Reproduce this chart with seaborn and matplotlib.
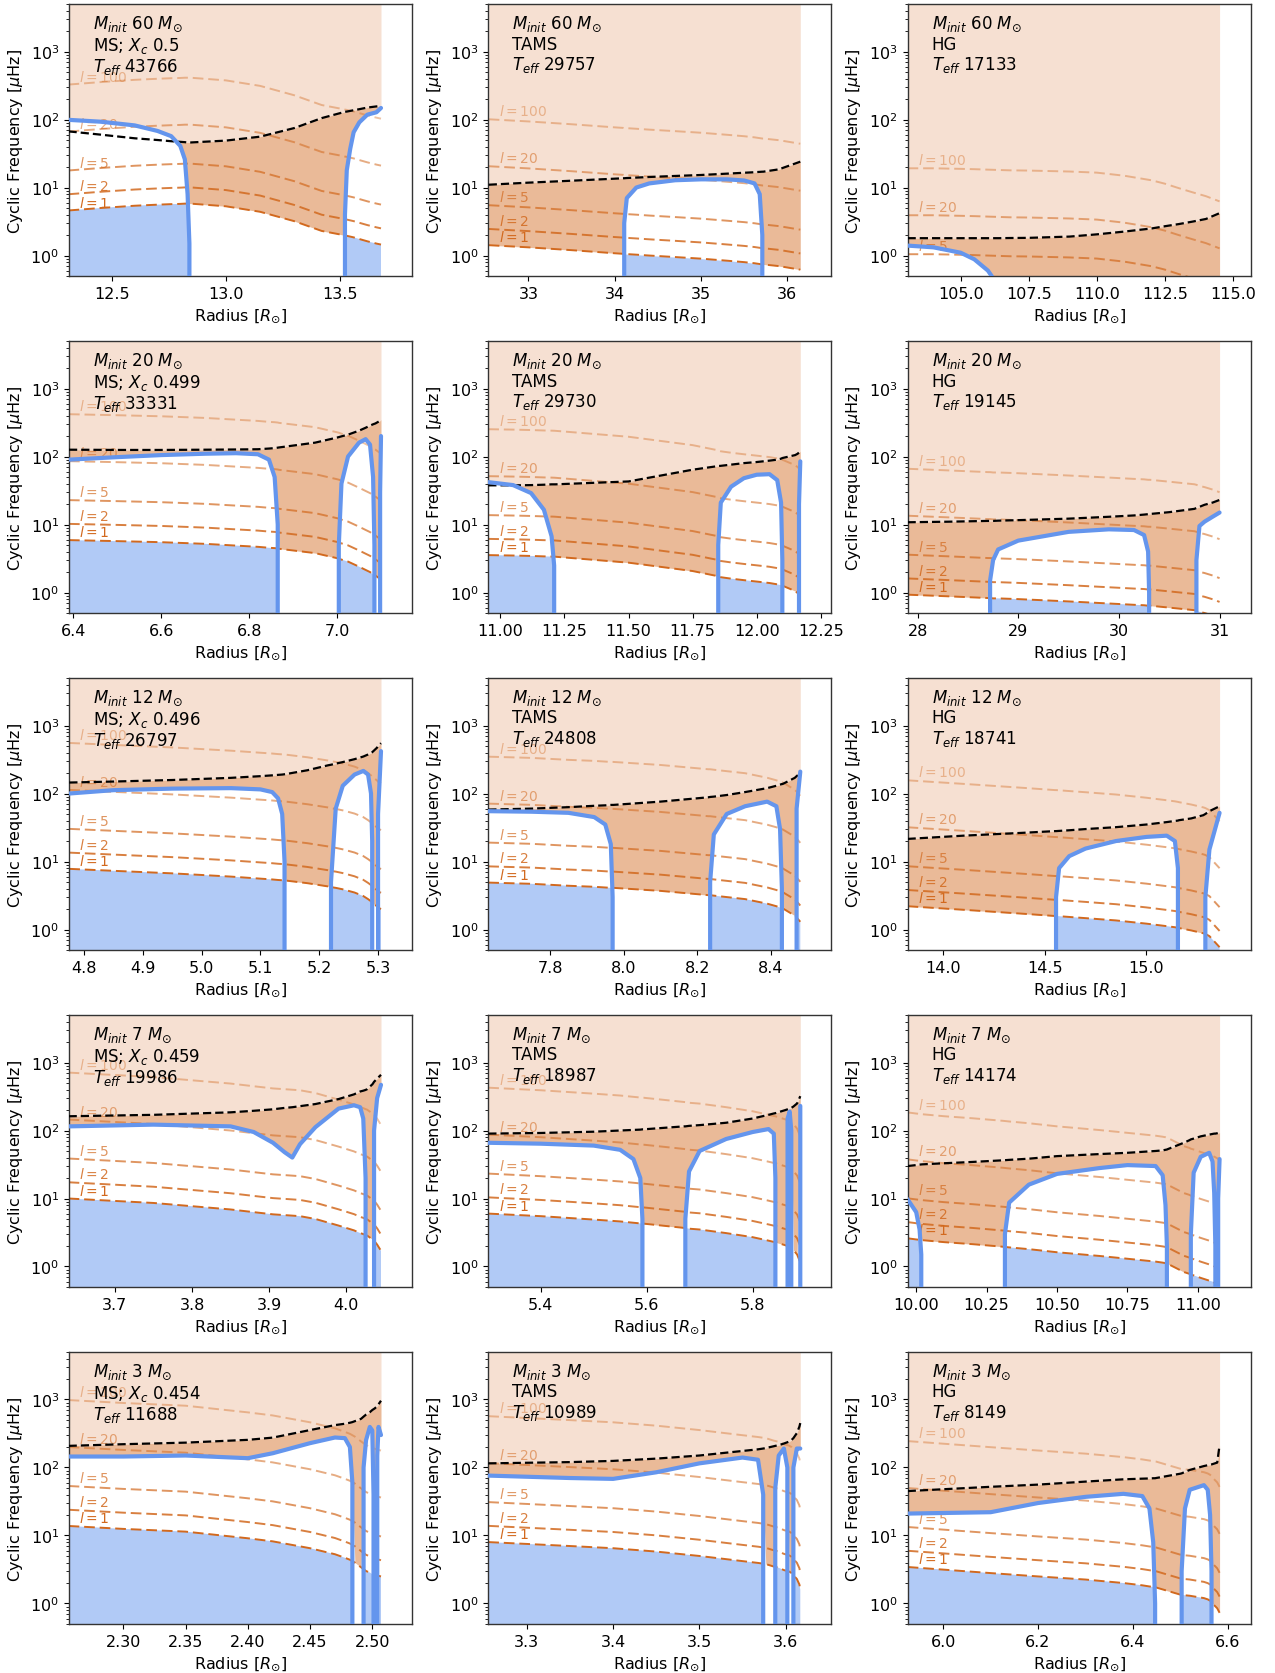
import numpy as np
import matplotlib
matplotlib.use("Agg")
import matplotlib.pyplot as plt
from matplotlib.ticker import FixedLocator
import seaborn as sns

# ---------------------------------------------------------------------------
# Propagation diagrams: radius [Rsun], Brunt-Vaisala frequency N, Lamb
# frequency for l=1 and the acoustic cut-off frequency (all in muHz).
# ---------------------------------------------------------------------------

# 60 Msun, MS
R_60_MS = [12.31, 12.45, 12.6, 12.7, 12.76, 12.8, 12.82, 12.832, 12.84, 12.845, 13.0, 13.15,
           13.3, 13.42, 13.515, 13.522, 13.53, 13.545, 13.56, 13.585, 13.62, 13.66, 13.68]
N_60_MS = [99, 93, 82, 68, 57, 41, 26, 8, 1.5, 0, 0, 0,
           0, 0, 0, 4, 18, 37, 65, 91, 118, 128, 148]
LAMB1_60_MS = [4.6, 5.0, 5.4, 5.6, 5.7, 5.75, 5.8, 5.8, 5.8, 5.8, 5.3, 4.4,
               3.2, 2.3, 2.0, 1.97, 1.95, 1.9, 1.85, 1.75, 1.62, 1.5, 1.45]
NUAC_60_MS = [67, 60, 53, 50, 48, 47, 46.5, 46, 46, 46, 49, 56,
              75, 105, 128, 130, 131, 134, 137, 142, 150, 156, 158]

# 60 Msun, TAMS
R_60_TAMS = [32.54, 33.0, 33.5, 34.0, 34.1, 34.11, 34.14, 34.25, 34.4, 34.7, 35.0, 35.3,
             35.5, 35.62, 35.68, 35.71, 35.72, 35.9, 36.15]
N_60_TAMS = [0, 0, 0, 0, 0, 3, 7, 10, 11.5, 12.8, 13.2, 13.2,
             12.7, 11.5, 8, 2, 0, 0, 0]
LAMB1_60_TAMS = [1.42, 1.32, 1.2, 1.08, 1.06, 1.05, 1.05, 1.03, 1.0, 0.95, 0.9, 0.84,
                 0.8, 0.77, 0.75, 0.74, 0.74, 0.7, 0.62]
NUAC_60_TAMS = [11, 11.8, 12.6, 13.5, 13.7, 13.7, 13.8, 14, 14.3, 14.8, 15.3, 16,
                16.5, 16.8, 17, 17.1, 17.1, 18.5, 24]

# 60 Msun, HG
R_60_HG = [103.05, 104.0, 105.0, 105.5, 106.0, 106.4, 106.8, 107.5, 109.0, 110.0, 111.0,
           112.0, 112.5, 113.0, 113.5, 114.0, 114.5]
N_60_HG = [1.4, 1.32, 1.1, 0.88, 0.6, 0.35, 0, 0, 0, 0, 0,
           0, 0, 0, 0, 0, 0]
LAMB1_60_HG = [0.27, 0.27, 0.265, 0.262, 0.258, 0.255, 0.252, 0.25, 0.242, 0.233, 0.21,
               0.18, 0.16, 0.138, 0.12, 0.105, 0.088]
NUAC_60_HG = [1.8, 1.8, 1.8, 1.8, 1.8, 1.8, 1.81, 1.82, 1.9, 2.05, 2.25,
              2.5, 2.7, 2.9, 3.15, 3.45, 4.2]

# 20 Msun, MS
R_20_MS = [6.39, 6.5, 6.6, 6.7, 6.77, 6.82, 6.845, 6.858, 6.865, 6.868, 6.95, 7.0,
           7.004, 7.01, 7.025, 7.05, 7.065, 7.075, 7.082, 7.085, 7.087, 7.096, 7.098, 7.1]
N_20_MS = [90, 98, 105, 110, 112, 108, 90, 50, 10, 0, 0, 0,
           5, 40, 100, 160, 180, 150, 50, 5, 0, 0, 30, 200]
LAMB1_20_MS = [5.9, 5.7, 5.5, 5.2, 4.9, 4.7, 4.55, 4.5, 4.45, 4.4, 3.8, 3.2,
               3.15, 3.05, 2.85, 2.4, 2.15, 2.0, 1.85, 1.8, 1.78, 1.62, 1.58, 1.55]
NUAC_20_MS = [126, 125, 125, 126, 127, 128, 131, 133, 135, 136, 160, 190,
              193, 198, 210, 240, 265, 285, 298, 303, 306, 330, 340, 350]

# 20 Msun, TAMS
R_20_TAMS = [10.953, 11.05, 11.12, 11.17, 11.2, 11.21, 11.215, 11.5, 11.75, 11.845, 11.85, 11.86,
             11.9, 11.95, 12.0, 12.05, 12.08, 12.095, 12.1, 12.105, 12.15, 12.16, 12.165, 12.17]
N_20_TAMS = [42, 38, 29, 16.5, 6.7, 2.5, 0, 0, 0, 0, 5, 21,
             36, 48, 54, 55, 45, 21, 3, 0, 0, 0, 20, 85]
LAMB1_20_TAMS = [3.55, 3.5, 3.45, 3.4, 3.38, 3.37, 3.36, 2.75, 2.07, 1.75, 1.72, 1.68,
                 1.6, 1.52, 1.45, 1.38, 1.32, 1.28, 1.26, 1.24, 1.05, 0.98, 0.94, 0.9]
NUAC_20_TAMS = [37.7, 37.7, 38, 38.5, 39, 39, 39, 43, 64, 72, 72.5, 73,
                76, 80, 83, 87, 90, 93, 95, 96, 105, 110, 115, 120]

# 20 Msun, HG
R_20_HG = [27.9, 28.3, 28.7, 28.72, 28.75, 28.8, 29.0, 29.5, 29.9, 30.15, 30.25, 30.29,
           30.3, 30.31, 30.5, 30.75, 30.77, 30.8, 30.85, 30.93, 31.0]
N_20_HG = [0, 0, 0, 1.5, 3, 4.3, 5.8, 7.8, 8.5, 8.3, 7, 4,
           1, 0, 0, 0, 3, 9.5, 11, 13, 15]
LAMB1_20_HG = [0.93, 0.88, 0.83, 0.83, 0.82, 0.82, 0.8, 0.74, 0.69, 0.66, 0.65, 0.64,
               0.64, 0.64, 0.6, 0.55, 0.54, 0.52, 0.5, 0.46, 0.42]
NUAC_20_HG = [10.8, 11.0, 11.3, 11.3, 11.3, 11.4, 11.6, 12.2, 13, 13.6, 14, 14.2,
              14.3, 14.3, 15.2, 17, 17.5, 18.2, 19.5, 21, 23]

# 12 Msun, MS
R_12_MS = [4.775, 4.85, 4.95, 5.05, 5.1, 5.12, 5.13, 5.137, 5.141, 5.143, 5.18, 5.215,
           5.22, 5.228, 5.24, 5.26, 5.275, 5.283, 5.288, 5.29, 5.292, 5.298, 5.3, 5.305]
N_12_MS = [100, 112, 118, 120, 115, 105, 85, 50, 10, 0, 0, 0,
           5, 60, 130, 190, 215, 190, 100, 20, 0, 0, 50, 420]
LAMB1_12_MS = [7.8, 7.3, 6.7, 6.0, 5.6, 5.45, 5.35, 5.3, 5.25, 5.25, 4.8, 4.3,
               4.2, 4.1, 3.9, 3.5, 3.1, 2.8, 2.6, 2.5, 2.4, 2.2, 2.1, 2.0]
NUAC_12_MS = [145, 150, 158, 170, 180, 185, 188, 190, 192, 193, 220, 260,
              265, 275, 290, 320, 350, 375, 395, 405, 420, 470, 500, 550]

# 12 Msun, TAMS
R_12_TAMS = [7.632, 7.75, 7.85, 7.92, 7.95, 7.965, 7.97, 7.972, 8.1, 8.23, 8.235,
             8.245, 8.28, 8.33, 8.39, 8.415, 8.425, 8.43, 8.432, 8.465, 8.47, 8.48]
N_12_TAMS = [55, 54, 52, 45, 35, 18, 3, 0, 0, 0, 5,
             25, 50, 65, 76, 65, 30, 4, 0, 0, 60, 210]
LAMB1_12_TAMS = [4.9, 4.7, 4.4, 4.25, 4.15, 4.1, 4.1, 4.1, 3.7, 3.2, 3.2,
                 3.15, 3.0, 2.8, 2.4, 2.2, 2.1, 2.05, 2.05, 1.6, 1.5, 1.3]
NUAC_12_TAMS = [58, 60, 63, 66, 67, 68, 68, 68, 76, 88, 89,
                90, 95, 105, 120, 130, 135, 138, 138, 170, 180, 200]

# 12 Msun, HG
R_12_HG = [13.824, 14.1, 14.4, 14.55, 14.555, 14.57, 14.62, 14.7, 14.85, 15.0, 15.1,
           15.14, 15.155, 15.16, 15.22, 15.28, 15.29, 15.31, 15.36]
N_12_HG = [0, 0, 0, 0, 3, 8, 12, 15.5, 20, 23, 24,
           20, 8, 0, 0, 0, 3, 15, 52]
LAMB1_12_HG = [2.2, 1.95, 1.7, 1.58, 1.58, 1.57, 1.53, 1.47, 1.36, 1.22, 1.12,
               1.08, 1.06, 1.05, 0.97, 0.88, 0.86, 0.8, 0.55]
NUAC_12_HG = [21.5, 24, 26.5, 28, 28, 28.2, 28.8, 30, 32, 35, 38,
              39.5, 40, 40.5, 43, 48, 50, 55, 65]

# 7 Msun, MS
R_7_MS = [3.64, 3.75, 3.85, 3.88, 3.905, 3.92, 3.93, 3.94, 3.96, 3.99, 4.01,
          4.018, 4.022, 4.025, 4.027, 4.034, 4.036, 4.04, 4.045]
N_7_MS = [115, 122, 115, 95, 66, 48, 40, 63, 112, 210, 235,
          220, 150, 20, 0, 0, 100, 300, 470]
LAMB1_7_MS = [10, 8.6, 6.9, 6.3, 5.85, 5.7, 5.6, 5.5, 5.0, 4.0, 3.4,
              3.1, 3.0, 2.9, 2.85, 2.5, 2.4, 2.1, 1.7]
NUAC_7_MS = [162, 170, 185, 195, 205, 215, 220, 228, 245, 290, 340,
             375, 385, 395, 405, 480, 520, 580, 660]

# 7 Msun, TAMS
R_7_TAMS = [5.301, 5.4, 5.5, 5.55, 5.575, 5.588, 5.592, 5.594, 5.67, 5.673, 5.68, 5.7,
            5.75, 5.8, 5.83, 5.84, 5.843, 5.845, 5.862, 5.866, 5.87, 5.873, 5.877, 5.884, 5.89]
N_7_TAMS = [66, 64, 60, 52, 38, 20, 5, 0, 0, 5, 25, 50,
            75, 95, 105, 90, 20, 0, 0, 150, 190, 100, 0, 0, 230]
LAMB1_7_TAMS = [6.0, 5.5, 4.9, 4.6, 4.4, 4.3, 4.28, 4.27, 3.7, 3.68, 3.6, 3.5,
                3.1, 2.7, 2.4, 2.3, 2.28, 2.25, 2.05, 2.0, 1.9, 1.85, 1.75, 1.5, 1.15]
NUAC_7_TAMS = [90, 92, 96, 100, 102, 103, 104, 104, 115, 115, 117, 120,
               130, 150, 170, 178, 180, 182, 200, 205, 210, 215, 225, 250, 320]

# 7 Msun, HG
R_7_HG = [9.969, 10.0, 10.012, 10.018, 10.022, 10.1, 10.2, 10.31, 10.315, 10.33, 10.4,
          10.5, 10.65, 10.75, 10.85, 10.875, 10.885, 10.89, 10.892, 10.95, 10.97,
          10.975, 10.985, 11.01, 11.04, 11.052, 11.058, 11.062, 11.068, 11.072, 11.077]
N_7_HG = [9.8, 6.3, 3.5, 1.5, 0, 0, 0, 0, 3, 8.7, 16,
          23, 28, 31, 30, 22, 8, 2, 0, 0, 0,
          3, 24, 41, 47, 35, 12, 2, 0, 10, 38]
LAMB1_7_HG = [2.6, 2.5, 2.47, 2.45, 2.44, 2.28, 2.13, 1.95, 1.94, 1.91, 1.8,
              1.62, 1.43, 1.3, 1.18, 1.14, 1.12, 1.1, 1.1, 0.83, 0.78,
              0.76, 0.74, 0.68, 0.62, 0.6, 0.58, 0.57, 0.55, 0.54, 0.53]
NUAC_7_HG = [30, 31, 31.5, 31.7, 31.8, 33, 34.5, 36.5, 36.6, 37, 38.5,
             42, 45, 47, 50, 51, 52, 52.5, 53, 66, 72,
             74, 76, 82, 87, 89, 90, 90, 91, 92, 93]

# 3 Msun, MS
R_3_MS = [2.256, 2.3, 2.35, 2.4, 2.42, 2.45, 2.47, 2.478, 2.482, 2.484, 2.486,
          2.491, 2.493, 2.495, 2.498, 2.5, 2.501, 2.502, 2.503, 2.504, 2.505, 2.507]
N_3_MS = [145, 145, 150, 137, 162, 228, 276, 270, 200, 60, 0,
          0, 100, 253, 395, 350, 40, 0, 0, 150, 395, 300]
LAMB1_3_MS = [13.8, 12.5, 11.4, 9.1, 8.2, 6.5, 5.3, 4.7, 4.4, 4.2, 4.0,
              3.4, 3.2, 3.0, 2.85, 2.7, 2.68, 2.65, 2.62, 2.6, 2.55, 2.5]
NUAC_3_MS = [208, 220, 232, 255, 275, 355, 420, 440, 455, 465, 480,
             520, 560, 600, 650, 700, 720, 740, 770, 800, 850, 960]

# 3 Msun, TAMS
R_3_TAMS = [3.2553, 3.35, 3.4, 3.45, 3.5, 3.55, 3.568, 3.574, 3.577, 3.586,
            3.588, 3.592, 3.598, 3.602, 3.604, 3.607, 3.609, 3.613, 3.616, 3.617]
N_3_TAMS = [76, 70, 68, 85, 115, 140, 130, 40, 0, 0,
            50, 150, 190, 100, 0, 0, 100, 190, 190, 190]
LAMB1_3_TAMS = [8.0, 7.0, 6.5, 5.8, 5.0, 4.2, 3.95, 3.85, 3.8, 3.5,
                3.45, 3.35, 3.1, 3.0, 2.95, 2.8, 2.6, 2.3, 1.9, 1.6]
NUAC_3_TAMS = [115, 120, 125, 135, 150, 175, 185, 190, 193, 205,
               208, 213, 225, 235, 240, 255, 270, 320, 400, 450]

# 3 Msun, HG
R_3_HG = [5.925, 6.1, 6.2, 6.3, 6.38, 6.42, 6.435, 6.443, 6.447, 6.449, 6.5,
          6.503, 6.51, 6.52, 6.55, 6.558, 6.563, 6.566, 6.568, 6.578, 6.583]
N_3_HG = [21, 22, 30, 37, 41, 38, 25, 8, 1, 0, 0,
          3, 25, 47, 55, 47, 20, 3, 0, 0, 0]
LAMB1_3_HG = [3.44, 2.8, 2.5, 2.25, 2.0, 1.85, 1.78, 1.75, 1.73, 1.72, 1.35,
              1.34, 1.32, 1.3, 1.2, 1.15, 1.1, 1.05, 1.0, 0.85, 0.73]
NUAC_3_HG = [45, 52, 56, 62, 67, 68.5, 69, 69.5, 69.5, 70, 81,
             82, 86, 92, 105, 108, 110, 111, 112, 118, 213]

# Panel annotations
MASSES = [60, 60, 60, 20, 20, 20, 12, 12, 12, 7, 7, 7, 3, 3, 3]
PHASES = ["MS; $X_c$ 0.5", "TAMS", "HG",
          "MS; $X_c$ 0.499", "TAMS", "HG",
          "MS; $X_c$ 0.496", "TAMS", "HG",
          "MS; $X_c$ 0.459", "TAMS", "HG",
          "MS; $X_c$ 0.454", "TAMS", "HG"]
TEFFS = [43766, 29757, 17133, 33331, 29730, 19145, 26797, 24808, 18741,
         19986, 18987, 14174, 11688, 10989, 8149]

XTICKS = [
    [12.5, 13.0, 13.5], [33, 34, 35, 36], [105.0, 107.5, 110.0, 112.5, 115.0],
    [6.4, 6.6, 6.8, 7.0], [11.00, 11.25, 11.50, 11.75, 12.00, 12.25], [28, 29, 30, 31],
    [4.8, 4.9, 5.0, 5.1, 5.2, 5.3], [7.8, 8.0, 8.2, 8.4], [14.0, 14.5, 15.0],
    [3.7, 3.8, 3.9, 4.0], [5.4, 5.6, 5.8], [10.00, 10.25, 10.50, 10.75, 11.00],
    [2.30, 2.35, 2.40, 2.45, 2.50], [3.3, 3.4, 3.5, 3.6], [6.0, 6.2, 6.4, 6.6],
]

DEGREES = [1, 2, 5, 20, 100]
DEGREE_ALPHA = [1.0, 0.85, 0.7, 0.55, 0.4]

PANELS = [
    (R_60_MS, N_60_MS, LAMB1_60_MS, NUAC_60_MS),
    (R_60_TAMS, N_60_TAMS, LAMB1_60_TAMS, NUAC_60_TAMS),
    (R_60_HG, N_60_HG, LAMB1_60_HG, NUAC_60_HG),
    (R_20_MS, N_20_MS, LAMB1_20_MS, NUAC_20_MS),
    (R_20_TAMS, N_20_TAMS, LAMB1_20_TAMS, NUAC_20_TAMS),
    (R_20_HG, N_20_HG, LAMB1_20_HG, NUAC_20_HG),
    (R_12_MS, N_12_MS, LAMB1_12_MS, NUAC_12_MS),
    (R_12_TAMS, N_12_TAMS, LAMB1_12_TAMS, NUAC_12_TAMS),
    (R_12_HG, N_12_HG, LAMB1_12_HG, NUAC_12_HG),
    (R_7_MS, N_7_MS, LAMB1_7_MS, NUAC_7_MS),
    (R_7_TAMS, N_7_TAMS, LAMB1_7_TAMS, NUAC_7_TAMS),
    (R_7_HG, N_7_HG, LAMB1_7_HG, NUAC_7_HG),
    (R_3_MS, N_3_MS, LAMB1_3_MS, NUAC_3_MS),
    (R_3_TAMS, N_3_TAMS, LAMB1_3_TAMS, NUAC_3_TAMS),
    (R_3_HG, N_3_HG, LAMB1_3_HG, NUAC_3_HG),
]

LAMB_COLOR = "#D2691E"
PEACH = "#F6E0D2"
P_MODE = "#EABA98"
G_MODE = "#B1CAF6"
N_COLOR = "cornflowerblue"
Y_MIN, Y_MAX = 0.5, 5000.0

sns.set_style("ticks")
plt.rcParams.update({
    "font.family": ["DejaVu Sans"],
    "font.size": 11,
    "axes.labelsize": 11.5,
    "xtick.labelsize": 11.5,
    "ytick.labelsize": 11.5,
    "axes.edgecolor": "0.2",
    "axes.linewidth": 1.0,
    "axes.labelcolor": "black",
    "text.color": "black",
    "xtick.color": "black",
    "ytick.color": "black",
    "xtick.major.size": 3.5,
    "ytick.major.size": 3.5,
    "ytick.minor.size": 2.0,
    "xtick.major.width": 0.8,
    "ytick.major.width": 0.8,
    "ytick.minor.width": 0.6,
    "mathtext.fontset": "dejavusans",
})


def draw_panel(ax, radius, brunt, lamb1, nuac, idx):
    r = np.asarray(radius, float)
    n = np.asarray(brunt, float)
    s1 = np.asarray(lamb1, float)
    ac = np.asarray(nuac, float)
    r_star = r[-1]

    upper = np.maximum(n, s1)
    # travelling region above the cut-off and the buoyancy frequency
    ax.fill_between(r, np.maximum(n, ac), 1e5, color=PEACH, lw=0, zorder=1)
    # p-mode cavity for l=1
    ax.fill_between(r, upper, ac, where=ac > upper, interpolate=True,
                    color=P_MODE, lw=0, zorder=1.5)
    # g-mode cavity for l=1
    ax.fill_between(r, 1e-4, np.minimum(n, s1), where=n > 0,
                    color=G_MODE, lw=0, zorder=1.6)

    for ell, alpha in zip(DEGREES, DEGREE_ALPHA):
        s_l = s1 * np.sqrt(ell * (ell + 1) / 2.0)
        sns.lineplot(x=r, y=s_l, ax=ax, color=LAMB_COLOR, alpha=alpha, lw=1.4,
                     linestyle=(0, (5.5, 2.5)), estimator=None, sort=False, zorder=2)
        if s_l[0] > Y_MIN:
            ax.text(0.03, s_l[0] * 1.03, f"$l={ell}$", transform=ax.get_yaxis_transform(),
                    color=LAMB_COLOR, alpha=alpha, fontsize=10, va="bottom", ha="left",
                    clip_on=True, zorder=2)

    sns.lineplot(x=r, y=ac, ax=ax, color="black", lw=1.6, linestyle=(0, (3.7, 1.8)),
                 estimator=None, sort=False, zorder=3)
    sns.lineplot(x=r, y=n, ax=ax, color=N_COLOR, lw=3.0, estimator=None,
                 sort=False, zorder=4)

    ax.set_yscale("log")
    ax.set_ylim(Y_MIN, Y_MAX)
    ax.xaxis.set_major_locator(FixedLocator(XTICKS[idx]))
    ax.set_xlim(0.9 * r_star, 1.01 * r_star)
    ax.set_xlabel(r"Radius [$R_{\odot}$]")
    ax.set_ylabel(r"Cyclic Frequency [$\mu$Hz]")
    for side in ("top", "right", "left", "bottom"):
        ax.spines[side].set_visible(True)

    label = (r"$M_{init}$ " + f"{MASSES[idx]} " + r"$M_{\odot}$" + "\n"
             + PHASES[idx] + "\n" + r"$T_{eff}$ " + f"{TEFFS[idx]}")
    ax.text(0.07, 0.965, label, transform=ax.transAxes, va="top", ha="left",
            fontsize=12, zorder=5, linespacing=1.12)


fig, axes = plt.subplots(5, 3, figsize=(12.75, 16.74), dpi=100)
fig.subplots_adjust(left=0.0541, right=0.981, top=0.997, bottom=0.0293,
                    wspace=0.2216, hspace=0.239)

for i, (ax, data) in enumerate(zip(axes.flat, PANELS)):
    draw_panel(ax, *data, i)

fig.savefig("out.png", dpi=100)
